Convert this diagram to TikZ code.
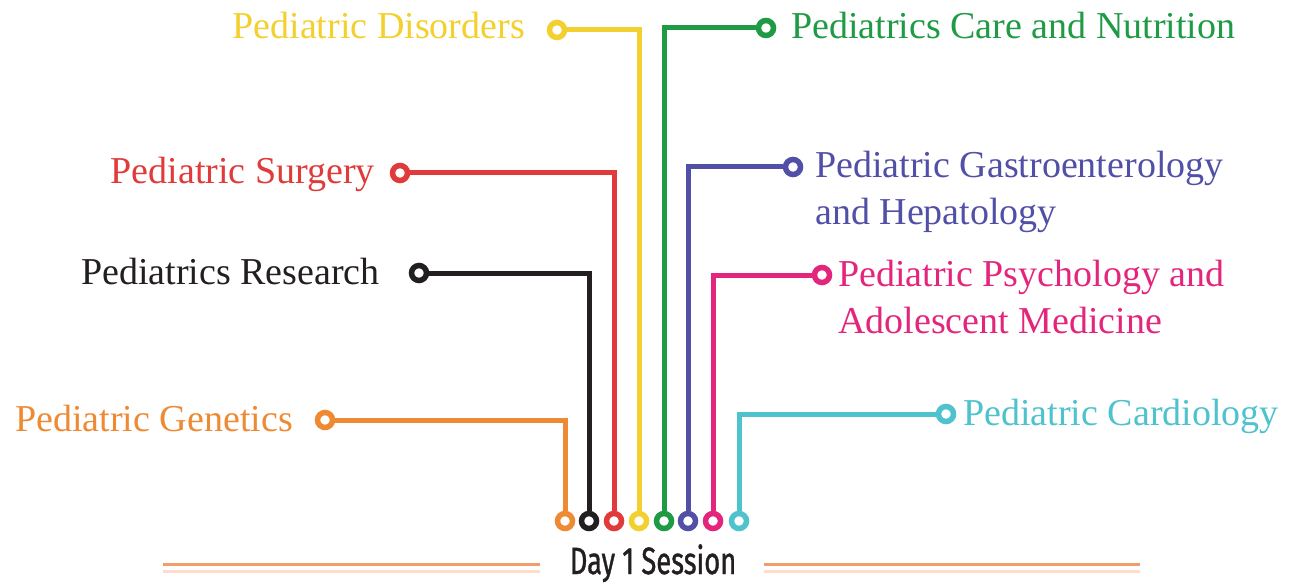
\documentclass[tikz,border=0pt]{standalone}
\usepackage{fontspec}
\setmainfont{Liberation Serif}
\newfontfamily\dayfont[FakeBold=1.2]{Fira Sans}
\usetikzlibrary{calc}
\definecolor{cOrange}{HTML}{EE8A33}
\definecolor{cBlack}{HTML}{231F20}
\definecolor{cRed}{HTML}{E03A3A}
\definecolor{cYellow}{HTML}{F3D02E}
\definecolor{cGreen}{HTML}{1F9A45}
\definecolor{cBlue}{HTML}{5150A6}
\definecolor{cPink}{HTML}{E4257C}
\definecolor{cCyan}{HTML}{4EC2CD}
\definecolor{cRule}{HTML}{F29E6B}
\definecolor{cRulePale}{HTML}{FCDCCB}
\tikzset{
  ring/.style={circle, draw=#1, line width=5.5pt, fill=white, minimum size=15pt, inner sep=0pt},
  wire/.style={draw=#1, line width=5pt, line join=miter},
  lab/.style={text=#1, inner sep=0pt, font=\fontsize{38}{47}\selectfont},
  rule/.style={line width=3pt, draw=cRule},
  rulepale/.style={line width=3pt, draw=cRulePale}
}
\begin{document}
\begin{tikzpicture}[x=1pt,y=-1pt]
\useasboundingbox (0,0) rectangle (1292,585);
% bottom rings
\node[ring=cOrange] (b1) at (565,521) {};
\node[ring=cBlack]  (b2) at (589,521) {};
\node[ring=cRed]    (b3) at (614,521) {};
\node[ring=cYellow] (b4) at (639,521) {};
\node[ring=cGreen]  (b5) at (664,521) {};
\node[ring=cBlue]   (b6) at (688,521) {};
\node[ring=cPink]   (b7) at (713,521) {};
\node[ring=cCyan]   (b8) at (739,521) {};
% end rings
\node[ring=cOrange] (e1) at (325,420) {};
\node[ring=cBlack]  (e2) at (419,273) {};
\node[ring=cRed]    (e3) at (400,173) {};
\node[ring=cYellow] (e4) at (557,30) {};
\node[ring=cGreen]  (e5) at (766,28) {};
\node[ring=cBlue]   (e6) at (793,167) {};
\node[ring=cPink]   (e7) at (822,275) {};
\node[ring=cCyan]   (e8) at (946,414) {};
% wires
\draw[wire=cOrange] (b1.north) |- (e1.east);
\draw[wire=cBlack]  (b2.north) |- (e2.east);
\draw[wire=cRed]    (b3.north) |- (e3.east);
\draw[wire=cYellow] (b4.north) |- (e4.east);
\draw[wire=cGreen]  (b5.north) |- (e5.west);
\draw[wire=cBlue]   (b6.north) |- (e6.west);
\draw[wire=cPink]   (b7.north) |- (e7.west);
\draw[wire=cCyan]   (b8.north) |- (e8.west);
% labels
\node[lab=cOrange, anchor=base east] (l1) at (293,431) {Pediatric Genetics};
\node[lab=cBlack,  anchor=base east] (l2) at (380,284) {Pediatrics Research};
\node[lab=cRed,    anchor=base east] (l3) at (375,184) {Pediatric Surgery};
\node[lab=cYellow, anchor=base east] (l4) at (525,39) {Pediatric Disorders};
\node[lab=cGreen,  anchor=base west] (l5) at (791,39) {Pediatrics Care and Nutrition};
\node[lab=cBlue,   anchor=base west] (l6) at (815,178) {Pediatric Gastroenterology};
\node[lab=cBlue,   anchor=base west] (l6b) at (815,225) {and Hepatology};
\node[lab=cPink,   anchor=base west] (l7) at (838,286) {Pediatric Psychology and};
\node[lab=cPink,   anchor=base west] (l7b) at (838,333) {Adolescent Medicine};
\node[lab=cCyan,   anchor=base west] (l8) at (963,425) {Pediatric Cardiology};
% Day 1 Session
\node[inner sep=0pt, text=cBlack, anchor=base] (day) at (653,574)
  {\scalebox{0.72}[1]{\dayfont\fontsize{38}{40}\selectfont Day 1 Session}};
\coordinate (rl1) at (163,564);
\coordinate (rl2) at (540,564);
\coordinate (rr1) at (764,564);
\coordinate (rr2) at (1140,564);
\coordinate (pl1) at (163,571);
\coordinate (pl2) at (540,571);
\coordinate (pr1) at (764,571);
\coordinate (pr2) at (1140,571);
\draw[rulepale] (pl1) -- (pl2);
\draw[rulepale] (pr1) -- (pr2);
\draw[rule] (rl1) -- (rl2);
\draw[rule] (rr1) -- (rr2);
\end{tikzpicture}
\end{document}
